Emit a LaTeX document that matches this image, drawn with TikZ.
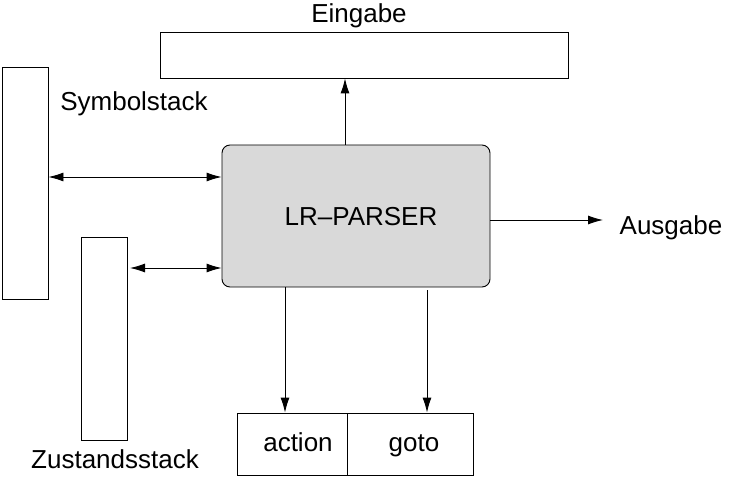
\documentclass[tikz,border=0pt]{standalone}
\usepackage{fontspec}
\setmainfont{Liberation Sans}
\usetikzlibrary{arrows.meta}
\begin{document}
\begin{tikzpicture}[x=1pt,y=-1pt,
  box/.style={draw,line width=0.9pt,inner sep=0pt},
  lbl/.style={font=\fontsize{26}{30}\selectfont,inner sep=0pt},
  arr/.style={line width=0.9pt,-{Latex[length=15pt,width=9pt]}},
  darr/.style={line width=0.9pt,{Latex[length=15pt,width=9pt]}-{Latex[length=15pt,width=9pt]}}]
\useasboundingbox (0,0) rectangle (735,478);
\node[box,minimum width=408pt,minimum height=46pt] (ein) at (364,55) {};
\node[lbl] (einl) at (359,16) {Eingabe};
\node[box,minimum width=46pt,minimum height=232pt] (sym) at (25,183) {};
\node[lbl] (syml) at (134,104) {Symbolstack};
\node[box,minimum width=46pt,minimum height=203pt] (zus) at (104,338.5) {};
\node[lbl] (zusl) at (115,459) {Zustandsstack};
\node[box,fill=black!15,rounded corners=8pt,minimum width=268pt,minimum height=142pt] (lr) at (356,216) {};
\node[lbl] (lrl) at (361,217) {LR--PARSER};
\node[box,minimum width=110pt,minimum height=62pt] (act) at (292,444) {};
\node[box,minimum width=126pt,minimum height=62pt] (got) at (410,444) {};
\node[lbl,anchor=base] (actl) at (298,451) {action};
\node[lbl,anchor=base] (gotl) at (414,451) {goto};
\node[lbl] (aus) at (671,228) {Ausgabe};
\coordinate (ausend) at (603,220);
\draw[arr] (345,145) -- (ein.south -| 345,0);
\draw[darr] (sym.east |- 0,177) -- (lr.west |- 0,177);
\draw[darr] (130,268) -- (lr.west |- 0,268);
\draw[arr] (lr.east |- 0,220) -- (ausend);
\draw[arr] (285,287) -- (act.north -| 285,0);
\draw[arr] (427,290) -- (got.north -| 427,0);
\end{tikzpicture}
\end{document}
